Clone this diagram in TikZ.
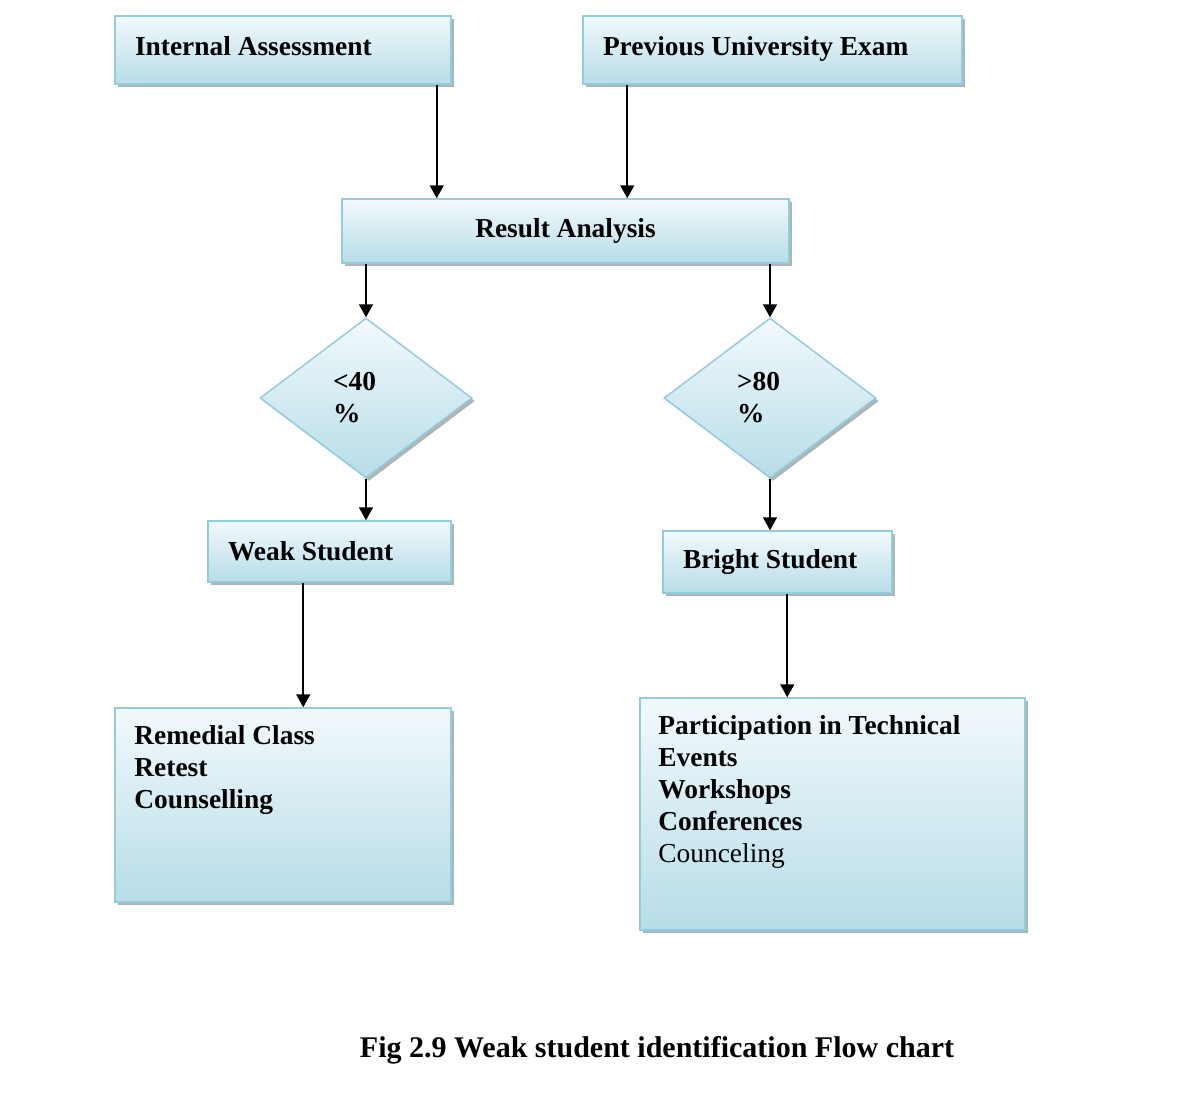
\documentclass[tikz,border=0pt]{standalone}
\usepackage{fontspec}
\setmainfont{Liberation Serif}
\usepackage{tikz}
\usetikzlibrary{shapes.geometric,arrows.meta,positioning,shadows}
\usepackage{xcolor}
\definecolor{boxtop}{RGB}{242,249,252}
\definecolor{boxbot}{RGB}{183,221,232}
\definecolor{boxline}{RGB}{146,205,220}

\tikzset{
    >={Triangle[length=13pt,width=14pt]},
    txt/.style={font=\fontsize{27.4}{32}\selectfont\bfseries},
    box/.style={txt, draw=boxline, line width=1.5pt, top color=boxtop, bottom color=boxbot,
        drop shadow={shadow xshift=3pt, shadow yshift=-3pt, opacity=0.6},
        inner xsep=20pt, align=flush left},
    decision/.style={box, diamond, inner sep=3pt, minimum width=212pt, minimum height=160pt, text width=66pt},
    flow/.style={->, line width=1.6pt}
}

\begin{document}
\begin{tikzpicture}[x=1pt,y=1pt]
    \useasboundingbox (0,0) rectangle (1187,-1106);

    \node[box, text width=296pt, minimum height=68pt, text depth=9pt] (intass) at (283,-50) {Internal Assessment};
    \node[box, text width=339pt, minimum height=68pt, text depth=9pt] (prevexam) at (772.5,-50) {Previous University Exam};
    \node[box, text width=407pt, minimum height=64pt, align=flush center] (result) at (565.5,-231) {Result Analysis};

    \node[decision] (below) at (366,-398) {<40\\\%};
    \node[decision] (above) at (770,-398) {>80\\\%};

    \node[box, text width=203pt, minimum height=61pt] (weak) at (329.5,-551.5) {Weak Student};
    \node[box, text width=189pt, minimum height=62pt] (bright) at (777.5,-562) {Bright Student};

    \node[box, text width=296pt, minimum height=194pt] (remedial) at (283,-805) {};
    \node[txt, anchor=north west, align=left, inner sep=0pt] (remtext) at ([xshift=20pt,yshift=-18pt]remedial.north west)
        {Remedial Class\\Retest\\Counselling};
    \node[box, text width=345pt, minimum height=232pt] (particip) at (832.5,-814) {};
    \node[txt, anchor=north west, align=left, inner sep=0pt] (partext) at ([xshift=19pt,yshift=-18pt]particip.north west)
        {Participation in Technical\\Events\\Workshops\\Conferences\\{\mdseries Counceling}};

    \coordinate (ia-out) at ([xshift=-15pt]intass.south east);
    \coordinate (pe-out) at ([xshift=45pt]prevexam.south west);
    \coordinate (weak-out) at ([xshift=96pt]weak.south west);
    \coordinate (bright-out) at ([xshift=125pt]bright.south west);

    \draw[flow] (ia-out) -- (ia-out |- result.north);
    \draw[flow] (pe-out) -- (pe-out |- result.north);
    \draw[flow] (below.north |- result.south) -- (below.north);
    \draw[flow] (above.north |- result.south) -- (above.north);
    \draw[flow] (below.south) -- (below.south |- weak.north);
    \draw[flow] (above.south) -- (above.south |- bright.north);
    \draw[flow] (weak-out) -- (weak-out |- remedial.north);
    \draw[flow] (bright-out) -- (bright-out |- particip.north);

    \node[font=\fontsize{30}{36}\selectfont\bfseries] (caption) at (657,-1050) {Fig 2.9 Weak student identification Flow chart};
\end{tikzpicture}
\end{document}
